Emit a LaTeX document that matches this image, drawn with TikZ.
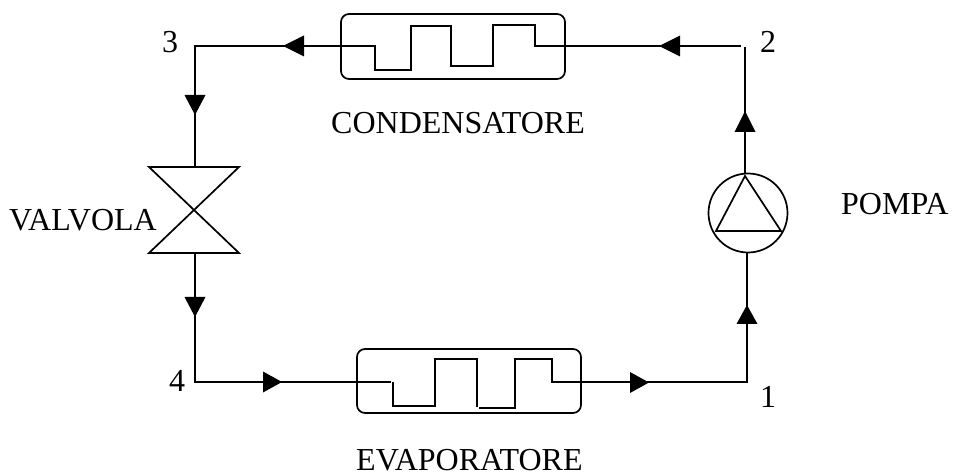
\documentclass[tikz,border=0pt]{standalone}
\usepackage{fontspec}
\setmainfont{Liberation Serif}
\begin{document}
\begin{tikzpicture}[x=1pt,y=-1pt,
  pipe/.style={draw=black,line width=1.7pt,line join=miter},
  lbl/.style={font=\fontsize{32}{32}\selectfont,inner sep=0pt,text=black,anchor=base west},
  head/.style={fill=black,draw=none}]
\useasboundingbox (0,0) rectangle (954,473);
\fill[white] (0,0) rectangle (954,473);
% corners
\coordinate (c2a) at (741,46);
\coordinate (c2) at (745,47);
\coordinate (c3) at (195,46);
\coordinate (c4) at (195,382);
\coordinate (c1) at (747,382);
% exchangers
\node[draw,line width=1.7pt,rounded corners=8pt,minimum width=224pt,minimum height=65pt,inner sep=0pt] (cond) at (453,46.5) {};
\node[draw,line width=1.7pt,rounded corners=8pt,minimum width=224pt,minimum height=64pt,inner sep=0pt] (evap) at (469,381) {};
% valve
\coordinate (vtl) at (149,167);
\coordinate (vtr) at (239,167);
\coordinate (vbl) at (149,253);
\coordinate (vbr) at (239,253);
\draw[pipe] (vtl) -- (vtr) -- (vbl) -- (vbr) -- cycle;
\coordinate (vtop) at (195,167);
\coordinate (vbot) at (195,253);
% pump
\node[draw,circle,line width=1.7pt,minimum size=79pt,inner sep=0pt] (pump) at (748,213) {};
\coordinate (pa) at (745,176);
\coordinate (pb) at (716,231);
\coordinate (pc) at (781,231);
\draw[pipe] (pa) -- (pb) -- (pc) -- cycle;
% top line
\draw[pipe] (c2a) -- (535,46) -- (535,25) -- (493,25) -- (493,66) -- (451,66) -- (451,26) -- (411,26) -- (411,70) -- (375,70) -- (375,46) -- (c3) -- (vtop);
\draw[pipe] (c2) -- (745,174);
% bottom line
\draw[pipe] (vbot) -- (c4) -- (391,382);
\draw[pipe] (393,382) -- (393,406) -- (435,406) -- (435,359) -- (477,359) -- (477,407);
\draw[pipe] (479,408) -- (516,408);
\draw[pipe] (515,408) -- (515,359) -- (552,359) -- (552,382) -- (c1) -- (747,252);
% arrowheads
\fill[head] (283,46) -- (304,35.5) -- (304,56.5) -- cycle;
\fill[head] (659,46) -- (680,35.5) -- (680,56.5) -- cycle;
\fill[head] (195,115) -- (184.5,95) -- (205.5,95) -- cycle;
\fill[head] (195,317) -- (184.5,297) -- (205.5,297) -- cycle;
\fill[head] (282,382) -- (263,371.5) -- (263,392.5) -- cycle;
\fill[head] (649,382.5) -- (630,372) -- (630,393) -- cycle;
\fill[head] (745,111) -- (734.5,132) -- (755.5,132) -- cycle;
\fill[head] (747,305) -- (736.5,324) -- (757.5,324) -- cycle;
% labels
\node[lbl] (l2) at (760,53) {2};
\node[lbl] (l3) at (162,53) {3};
\node[lbl] (l4) at (169,391) {4};
\node[lbl] (l1) at (760,407) {1};
\node[lbl] (lc) at (331,134) {CONDENSATORE};
\node[lbl] (le) at (356,470) {EVAPORATORE};
\node[lbl] (lv) at (9,231) {VALVOLA};
\node[lbl] (lp) at (841,215) {POMPA};
\end{tikzpicture}
\end{document}
